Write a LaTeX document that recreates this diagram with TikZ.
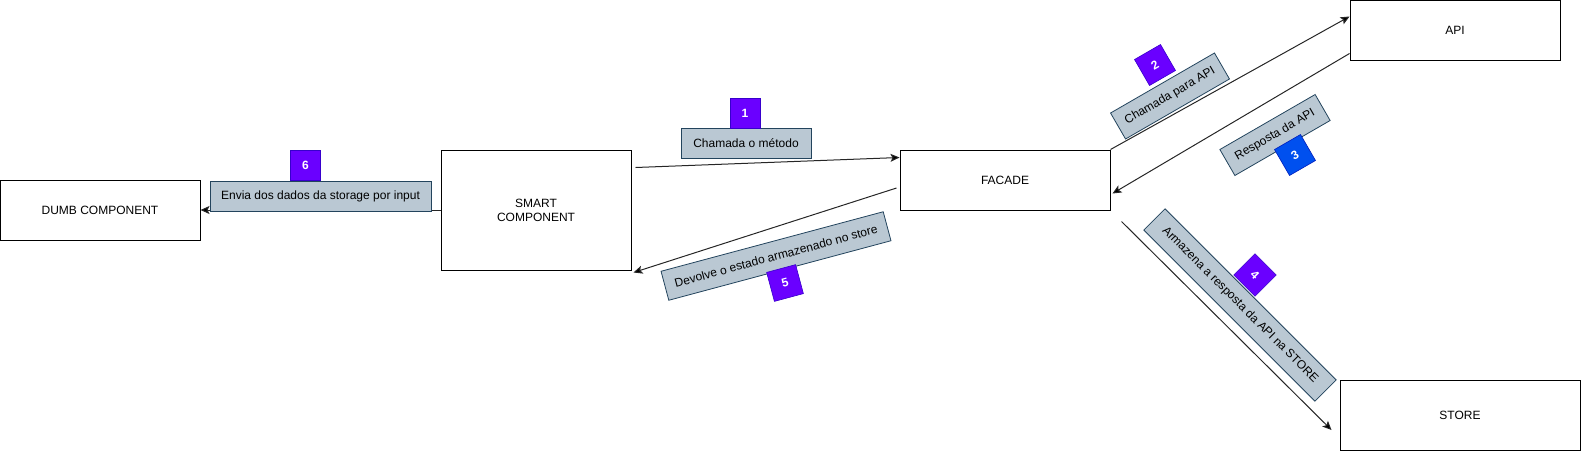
\documentclass[tikz,border=0pt]{standalone}
\usepackage{fontspec}
\setmainfont{Liberation Sans}
\usetikzlibrary{arrows.meta}
\definecolor{lblfill}{HTML}{BAC8D3}
\definecolor{lbldraw}{HTML}{23445D}
\definecolor{violet}{HTML}{6A00FF}
\definecolor{violetdraw}{HTML}{3700CC}
\definecolor{bluebadge}{HTML}{0050EF}
\definecolor{bluedraw}{HTML}{001DBC}
\tikzset{
  box/.style={draw=black, line width=1pt, fill=white, inner sep=0pt, align=center, font=\fontsize{12}{14}\selectfont},
  lbl/.style={draw=lbldraw, fill=lblfill, line width=0.8pt, inner sep=0pt, minimum height=30pt, font=\fontsize{12}{14}\selectfont},
  badge/.style={draw=violetdraw, fill=violet, line width=0.6pt, inner sep=0pt, minimum width=30pt, minimum height=30pt, text=white, font=\fontsize{12}{14}\selectfont\bfseries},
  arr/.style={draw=black!85, line width=1pt, -{Stealth[length=9pt,width=8pt,inset=2pt,fill=black]}}
}
\begin{document}
\begin{tikzpicture}[x=1pt,y=-1pt]
\useasboundingbox (0,0) rectangle (1581,451);
% main boxes
\node[box, minimum width=200pt, minimum height=60pt] (dumb) at (100,210) {DUMB COMPONENT};
\node[box, minimum width=190pt, minimum height=120pt] (smart) at (536,210) {SMART\\COMPONENT};
\node[box, minimum width=210pt, minimum height=60pt] (facade) at (1005,180) {FACADE};
\node[box, minimum width=210pt, minimum height=60pt] (api) at (1455,30) {API};
\node[box, minimum width=240pt, minimum height=70pt] (store) at (1460,415) {STORE};
% connectors
\draw[arr] ([xshift=4pt,yshift=-18pt]smart.north east) -- ([yshift=-8pt]facade.north west);
\draw[arr] (facade.north east) -- ([yshift=-17pt]api.north west);
\draw[arr] ([yshift=7pt]api.south west) -- ([xshift=2pt,yshift=17pt]facade.south east);
\draw[arr] ([xshift=11pt,yshift=-11pt]facade.south east) -- ([xshift=-8pt,yshift=-15pt]store.west);
\draw[arr] ([xshift=-3pt,yshift=-8pt]facade.west) -- ([xshift=2pt,yshift=-2pt]smart.south east);
\draw[arr] (smart.west) -- (dumb.east);
% labels
\node[lbl, minimum width=130pt] (l1) at (746,143.5) {Chamada o método};
\node[badge] (b1) at (745,113) {1};
\node[lbl, minimum width=221pt] (l6) at (320.5,196) {Envia dos dados da storage por input};
\node[badge] (b6) at (305.5,165.5) {6};
\node[lbl, minimum width=120pt, rotate=30] (l2) at (1170,96) {Chamada para API};
\node[badge, rotate=30] (b2) at (1155,65) {2};
\node[lbl, minimum width=110pt, rotate=30] (l3) at (1275,135) {Resposta da API};
\node[badge, rotate=30, draw=bluedraw, fill=bluebadge] (b3) at (1295,155) {3};
\node[lbl, minimum width=242pt, rotate=-45] (l4) at (1240,305) {Armazena a resposta da API na STORE};
\node[badge, rotate=-45] (b4) at (1255,275) {4};
\node[lbl, minimum width=230pt, rotate=15] (l5) at (776,256) {Devolve o estado armazenado no store};
\node[badge, rotate=15] (b5) at (785,283) {5};
\end{tikzpicture}
\end{document}
